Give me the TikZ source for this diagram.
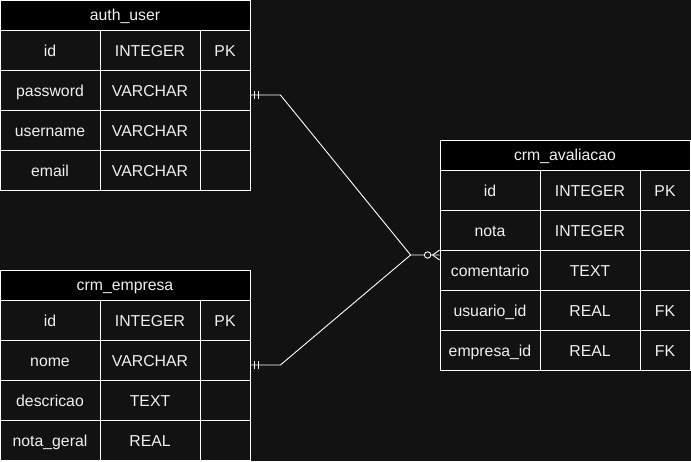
\documentclass[tikz,border=0pt]{standalone}
\usepackage{fontspec}
\setmainfont{Liberation Sans}
\usetikzlibrary{fit, calc}
\definecolor{canvas}{HTML}{121212}
\definecolor{cellink}{HTML}{F0F0F0}
\newcommand{\cellfont}{\fontsize{15.8}{18}\selectfont}
\tikzset{
  tblhead/.style={rectangle,draw=white,fill=black,text=cellink,
    minimum width=250pt,minimum height=30pt,inner sep=0pt,font=\cellfont,
    text height=1.17em,text depth=0pt},
  tblcell/.style={rectangle,draw=white,fill=canvas,text=cellink,
    minimum height=40pt,inner sep=0pt,font=\cellfont,
    text height=1.2em,text depth=0pt},
  fldcell/.style={tblcell,minimum width=100pt},
  typcell/.style={tblcell,minimum width=100pt},
  keycell/.style={tblcell,minimum width=50pt},
  tblframe/.style={rectangle,inner sep=0pt},
  erline/.style={draw=white,line width=0.9pt}
}

\begin{document}
\begin{tikzpicture}[x=1pt,y=-1pt]
  \fill[canvas] (0,0) rectangle (691,461);
  \useasboundingbox (0,0) rectangle (691,461);

  % auth_user
  \node[tblhead] (auhead) at (125,15) {auth\_user};
  \foreach \fld/\typ/\key [count=\i] in {id/INTEGER/PK, password/VARCHAR/{},
      username/VARCHAR/{}, email/VARCHAR/{}} {
    \node[fldcell] (au-f\i) at (50,{10+40*\i}) {\fld};
    \node[typcell] (au-t\i) at (150,{10+40*\i}) {\typ};
    \node[keycell] (au-k\i) at (225,{10+40*\i}) {\key};
  }
  \node[tblframe, fit=(auhead)(au-k4)] (authuser) {};

  % crm_empresa
  \node[tblhead] (emhead) at (125,285) {crm\_empresa};
  \foreach \fld/\typ/\key [count=\i] in {id/INTEGER/PK, nome/VARCHAR/{},
      descricao/TEXT/{}, nota\_geral/REAL/{}} {
    \node[fldcell] (em-f\i) at (50,{280+40*\i}) {\fld};
    \node[typcell] (em-t\i) at (150,{280+40*\i}) {\typ};
    \node[keycell] (em-k\i) at (225,{280+40*\i}) {\key};
  }
  \node[tblframe, fit=(emhead)(em-k4)] (empresa) {};

  % crm_avaliacao
  \node[tblhead] (avhead) at (565,155) {crm\_avaliacao};
  \foreach \fld/\typ/\key [count=\i] in {id/INTEGER/PK, nota/INTEGER/{},
      comentario/TEXT/{}, usuario\_id/REAL/FK, empresa\_id/REAL/FK} {
    \node[fldcell] (av-f\i) at (490,{150+40*\i}) {\fld};
    \node[typcell] (av-t\i) at (590,{150+40*\i}) {\typ};
    \node[keycell] (av-k\i) at (665,{150+40*\i}) {\key};
  }
  \node[tblframe, fit=(avhead)(av-k5)] (avaliacao) {};

  % relations
  \coordinate (meet) at ($(avaliacao.west)+(-29pt,0)$);
  \draw[erline] (authuser.east) -- ++(30pt,0) -- (meet) -- (avaliacao.west);
  \draw[erline] (empresa.east) -- ++(30pt,0) -- (meet);

  % one (mandatory) ends
  \foreach \tbl in {authuser,empresa}
    \foreach \dx in {4,8}
      \draw[erline] ($(\tbl.east)+(\dx pt,4pt)$) -- ++(0,-8pt);

  % zero-to-many end
  \draw[erline] ($(avaliacao.west)+(-7pt,0)$) -- ($(avaliacao.west)+(0,5pt)$);
  \draw[erline] ($(avaliacao.west)+(-7pt,0)$) -- ($(avaliacao.west)+(0,-5pt)$);
  \draw[erline,fill=canvas] ($(avaliacao.west)+(-12pt,0)$) circle (3.2pt);
\end{tikzpicture}
\end{document}
